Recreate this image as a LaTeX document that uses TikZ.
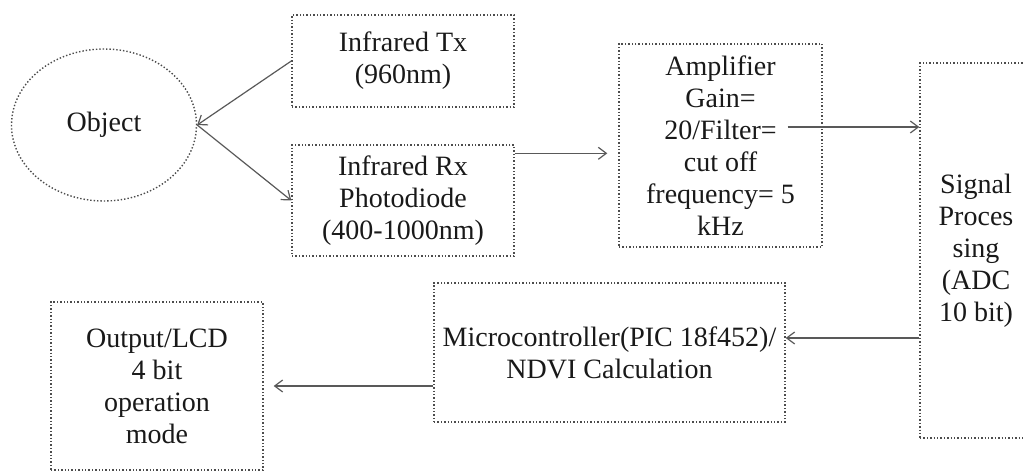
\documentclass[tikz,border=0pt]{standalone}
\usepackage{fontspec}
\setmainfont{Liberation Serif}
\usetikzlibrary{shapes.geometric,arrows.meta}

\begin{document}
\begin{tikzpicture}[x=0.5pt, y=-0.5pt,
    every node/.style={font=\fontsize{14}{16}\selectfont, align=center, text=black!90},
    blockbox/.style={draw=black!70, densely dotted, line width=0.7pt, inner sep=0pt},
    arr/.style={draw=black!65, line width=0.6pt, -{Straight Barb[length=4pt,width=6pt]}}]
  % Marco
  \useasboundingbox (0,0) rectangle (1024,472);

  % Bloques
  \node[blockbox, ellipse, minimum width=92.5pt, minimum height=76pt] (obj) at (104,125) {Object};
  \node[blockbox, minimum width=111pt, minimum height=46pt] (tx) at (403,61) {Infrared Tx\\(960nm)};
  \node[blockbox, minimum width=111pt, minimum height=55.5pt] (rx) at (403,200.5) {Infrared Rx\\Photodiode\\(400-1000nm)};
  \node[blockbox, minimum width=101.5pt, minimum height=101.5pt] (amp) at (720.5,145.5) {Amplifier\\Gain=\\20/Filter=\\cut off\\frequency= 5\\kHz};
  \node[blockbox, minimum width=56pt, minimum height=187.5pt] (sig) at (976,250.5) {Signal\\Proces\\sing\\(ADC\\10 bit)};
  \node[blockbox, minimum width=175.5pt, minimum height=69.5pt] (mcu) at (609.5,352.5) {Microcontroller(PIC 18f452)/\\NDVI Calculation};
  \node[blockbox, minimum width=106pt, minimum height=84pt] (out) at (157,386) {Output/LCD\\4 bit\\operation\\mode};

  % Flechas
  \draw[arr] (tx.west) -- (obj.east);
  \draw[arr] (obj.east) -- (rx.west);
  \draw[arr] ([yshift=-4.5pt]rx.north east) coordinate (rxout) -- ([xshift=-5.5pt]amp.west |- rxout);
  \draw[arr] ([shift={(-17.5pt,9.25pt)}]amp.east) coordinate (ampout) -- (sig.west |- ampout);
  \draw[arr] ([yshift=-43.75pt]sig.west) coordinate (sigout) -- (mcu.east |- sigout);
  \draw[arr] (mcu.west |- out.east) -- ([xshift=5pt]out.east);
\end{tikzpicture}
\end{document}
